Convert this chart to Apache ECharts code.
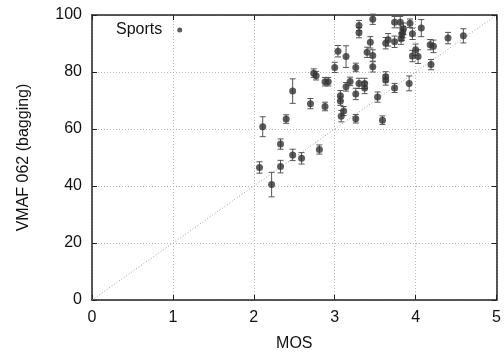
<!DOCTYPE html>
<html>
<head>
<meta charset="utf-8">
<script src="https://cdn.jsdelivr.net/npm/echarts@6/dist/echarts.min.js"></script>
<style>
  html, body { margin: 0; padding: 0; background: #fff; }
  #chart { width: 504px; height: 357px; }
</style>
</head>
<body>
<div id="chart"></div>
<script>
// MOS vs. VMAF 062 (bagging) scores for the Sports clips, with error bars
const mos = [2.07, 2.22, 2.11, 2.33, 2.33, 2.40, 2.48, 2.48, 2.59, 2.70,
             2.74, 2.77, 2.81, 2.88, 2.92, 2.88, 3.00, 3.04, 3.07, 3.07,
             3.08, 3.11, 3.14, 3.14, 3.19, 3.26, 3.26, 3.26, 3.30, 3.30,
             3.30, 3.37, 3.37, 3.40, 3.44, 3.47, 3.47, 3.47, 3.53, 3.59,
             3.63, 3.66, 3.63, 3.63, 3.74, 3.74, 3.74, 3.81, 3.85, 3.84,
             3.83, 3.82, 3.93, 3.96, 3.92, 4.07, 4.00, 3.96, 4.03, 4.18,
             4.22, 4.19, 4.40, 4.59];
const vmaf = [46.5, 40.5, 60.8, 46.8, 54.7, 63.5, 50.9, 73.3, 49.7, 68.9,
              79.6, 78.7, 52.8, 76.6, 76.6, 67.9, 81.6, 87.3, 71.7, 69.8,
              64.5, 66.3, 74.8, 85.4, 76.7, 81.6, 72.3, 63.6, 96.3, 93.8,
              76.0, 76.0, 74.4, 86.9, 90.4, 98.5, 85.8, 81.8, 71.2, 63.1,
              90.1, 91.3, 78.3, 77.2, 97.5, 90.6, 74.4, 97.5, 95.2, 94.0,
              93.1, 91.7, 97.1, 93.4, 76.0, 95.4, 87.8, 85.6, 85.4, 89.6,
              89.0, 82.6, 91.9, 92.7];
const vmafErr = [2.0, 4.3, 3.5, 2.2, 1.8, 1.5, 2.0, 4.3, 2.0, 1.8,
                 1.5, 1.5, 1.6, 1.5, 1.5, 1.5, 1.8, 2.0, 1.8, 1.5,
                 2.0, 1.6, 1.5, 3.8, 1.5, 1.5, 2.0, 1.5, 1.8, 1.8,
                 1.8, 1.8, 2.0, 1.8, 2.0, 1.8, 2.0, 1.8, 1.8, 1.5,
                 2.0, 2.2, 1.8, 1.8, 2.0, 2.0, 1.6, 2.0, 2.0, 2.0,
                 2.0, 2.0, 1.5, 2.0, 2.6, 3.0, 2.0, 2.0, 2.4, 1.8,
                 2.2, 1.8, 2.0, 2.5];
const xTicks = [0, 1, 2, 3, 4, 5];
const yTicks = [0, 20, 40, 60, 80, 100];
const diagonal = [[0, 0], [5, 100]];

const points = mos.map((m, i) => [m, vmaf[i]]);
const errData = mos.map((m, i) => [m, vmaf[i] - vmafErr[i], vmaf[i] + vmafErr[i]]);

const font = '"Liberation Sans", Arial, Helvetica, sans-serif';
const gridLine = { show: true, lineStyle: { color: '#b8b8b8', type: [1, 2], width: 1 } };

const chart = echarts.init(document.getElementById('chart'), null, { renderer: 'canvas' });
chart.setOption({
  animation: false,
  backgroundColor: '#fff',
  grid: { left: 92, right: 7, top: 15, bottom: 53 },
  legend: {
    data: [{ name: 'Sports', icon: 'circle' }],
    left: 111, top: 17,
    align: 'right',
    itemWidth: 5, itemHeight: 5,
    textStyle: { fontFamily: font, fontSize: 16, color: '#111', padding: [0, 10, 0, 0] },
    itemStyle: { color: '#333' }
  },
  xAxis: [{
    type: 'value', min: xTicks[0], max: xTicks[xTicks.length - 1], interval: 1,
    name: 'MOS', nameLocation: 'middle', nameGap: 36,
    nameTextStyle: { fontFamily: font, fontSize: 16, color: '#111' },
    axisLine: { show: true, onZero: false, lineStyle: { color: '#222', width: 1.5 } },
    axisTick: { show: true, inside: true, length: 5, lineStyle: { color: '#222' } },
    axisLabel: { fontFamily: font, fontSize: 16, color: '#111', margin: 10 },
    splitLine: gridLine
  }, {
    type: 'value', position: 'top', min: xTicks[0], max: xTicks[xTicks.length - 1], interval: 1,
    axisLine: { show: true, onZero: false, lineStyle: { color: '#222', width: 1.5 } },
    axisTick: { show: true, inside: true, length: 5, lineStyle: { color: '#222' } },
    axisLabel: { show: false }, splitLine: { show: false }
  }],
  yAxis: [{
    type: 'value', min: yTicks[0], max: yTicks[yTicks.length - 1], interval: 20,
    name: 'VMAF 062 (bagging)', nameLocation: 'middle', nameGap: 60,
    nameTextStyle: { fontFamily: font, fontSize: 16, color: '#111' },
    axisLine: { show: true, onZero: false, lineStyle: { color: '#222', width: 1.5 } },
    axisTick: { show: true, inside: true, length: 5, lineStyle: { color: '#222' } },
    axisLabel: { fontFamily: font, fontSize: 16, color: '#111', margin: 10 },
    splitLine: gridLine
  }, {
    type: 'value', position: 'right', min: yTicks[0], max: yTicks[yTicks.length - 1], interval: 20,
    axisLine: { show: true, onZero: false, lineStyle: { color: '#222', width: 1.5 } },
    axisTick: { show: true, inside: true, length: 5, lineStyle: { color: '#222' } },
    axisLabel: { show: false }, splitLine: { show: false }
  }],
  series: [{
    type: 'line',
    data: diagonal,
    symbol: 'none',
    silent: true,
    lineStyle: { color: '#a0a0a0', width: 1, type: [1, 2] },
    z: 1
  }, {
    type: 'custom',
    data: errData,
    z: 2,
    renderItem: function (params, api) {
      const x = api.value(0);
      const lo = api.coord([x, api.value(1)]);
      const hi = api.coord([x, api.value(2)]);
      const cap = 3;
      const style = { stroke: '#555', lineWidth: 1 };
      return {
        type: 'group',
        children: [
          { type: 'line', shape: { x1: lo[0], y1: lo[1], x2: hi[0], y2: hi[1] }, style: style },
          { type: 'line', shape: { x1: lo[0] - cap, y1: lo[1], x2: lo[0] + cap, y2: lo[1] }, style: style },
          { type: 'line', shape: { x1: hi[0] - cap, y1: hi[1], x2: hi[0] + cap, y2: hi[1] }, style: style }
        ]
      };
    }
  }, {
    name: 'Sports',
    type: 'scatter',
    data: points,
    symbol: 'circle',
    symbolSize: 7,
    itemStyle: { color: '#333' },
    z: 3
  }]
});
</script>
</body>
</html>
